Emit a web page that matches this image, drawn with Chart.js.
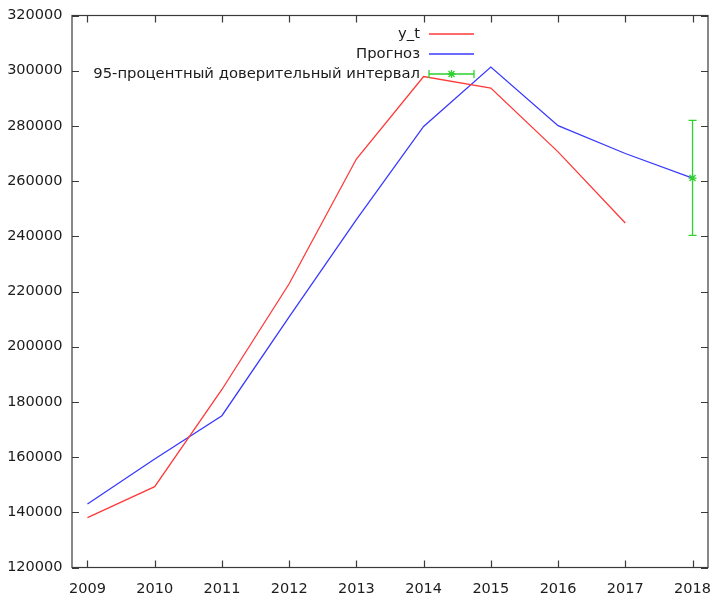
<!DOCTYPE html>
<html>
<head>
<meta charset="utf-8">
<script src="https://cdn.jsdelivr.net/npm/chart.js@4/dist/chart.umd.min.js"></script>
<style>
  html, body { margin: 0; padding: 0; background: #ffffff; }
  canvas { display: block; }
</style>
</head>
<body>
<canvas id="c" width="714" height="595"></canvas>
<script>
// Years on the horizontal axis
const years = [2009, 2010, 2011, 2012, 2013, 2014, 2015, 2016, 2017, 2018];
// Observed series y_t (2009–2017)
const actual = [138100, 149300, 184500, 222800, 268000, 297900, 293700, 270600, 244800];
// Forecast series (2009–2018)
const forecast = [143000, 159300, 175000, 210800, 246000, 279800, 301300, 280100, 270000, 261100];
// 95% confidence interval for the 2018 forecast
const ciYear = [2018];
const ciPoint = [261100];
const ciLow = [240300];
const ciHigh = [282000];
// Axis tick values
const yTicks = [120000, 140000, 160000, 180000, 200000, 220000, 240000, 260000, 280000, 300000, 320000];
// Legend entries
const seriesNames = ['y_t', 'Прогноз', '95-процентный доверительный интервал'];

const RED = '#ff3a3a';
const BLUE = '#3a3aff';
const GREEN = '#2ed12e';
const INK = '#1c1c1c';
const FAMILY = '"DejaVu Sans", sans-serif';
const KEY_FONT = '14.8px "DejaVu Sans", sans-serif';

function drawStar(ctx, x, y, r) {
  ctx.beginPath();
  ctx.moveTo(x - r, y); ctx.lineTo(x + r, y);
  ctx.moveTo(x, y - r); ctx.lineTo(x, y + r);
  const d = r * 0.75;
  ctx.moveTo(x - d, y - d); ctx.lineTo(x + d, y + d);
  ctx.moveTo(x - d, y + d); ctx.lineTo(x + d, y - d);
  ctx.stroke();
}

// Frame, inward tick marks, error bar and key
const gnuplotStyle = {
  id: 'gnuplotStyle',
  afterDatasetsDraw(chart) {
    const { ctx, chartArea: a, scales } = chart;
    const xs = scales.x, ys = scales.y;
    ctx.save();

    // error bar
    ctx.strokeStyle = GREEN;
    ctx.lineWidth = 1.3;
    ciYear.forEach((yr, i) => {
      const px = xs.getPixelForValue(yr);
      const top = ys.getPixelForValue(ciHigh[i]);
      const bot = ys.getPixelForValue(ciLow[i]);
      const mid = ys.getPixelForValue(ciPoint[i]);
      ctx.beginPath();
      ctx.moveTo(px, top); ctx.lineTo(px, bot);
      ctx.moveTo(px - 4, top); ctx.lineTo(px + 4, top);
      ctx.moveTo(px - 4, bot); ctx.lineTo(px + 4, bot);
      ctx.stroke();
      drawStar(ctx, px, mid, 4);
    });

    // frame
    ctx.strokeStyle = '#3a3a3a';
    ctx.lineWidth = 1.2;
    ctx.strokeRect(a.left, a.top, a.right - a.left, a.bottom - a.top);

    // inward ticks on all four sides
    const tl = 7;
    ctx.beginPath();
    years.forEach(v => {
      const px = Math.round(xs.getPixelForValue(v)) + 0.5;
      ctx.moveTo(px, a.bottom); ctx.lineTo(px, a.bottom - tl);
      ctx.moveTo(px, a.top); ctx.lineTo(px, a.top + tl);
    });
    yTicks.forEach(v => {
      const py = Math.round(ys.getPixelForValue(v)) + 0.5;
      ctx.moveTo(a.left, py); ctx.lineTo(a.left + tl, py);
      ctx.moveTo(a.right, py); ctx.lineTo(a.right - tl, py);
    });
    ctx.stroke();

    // key
    const textRight = 420, s0 = 429, s1 = 474;
    const rows = [34, 54, 74];
    const colors = [RED, BLUE, GREEN];
    ctx.font = KEY_FONT;
    ctx.fillStyle = INK;
    ctx.textAlign = 'right';
    ctx.textBaseline = 'middle';
    seriesNames.forEach((name, i) => {
      ctx.fillText(name, textRight, rows[i]);
      ctx.strokeStyle = colors[i];
      ctx.lineWidth = 1.3;
      ctx.beginPath();
      ctx.moveTo(s0, rows[i]); ctx.lineTo(s1, rows[i]);
      if (i === 2) {
        ctx.moveTo(s0, rows[i] - 4); ctx.lineTo(s0, rows[i] + 4);
        ctx.moveTo(s1, rows[i] - 4); ctx.lineTo(s1, rows[i] + 4);
      }
      ctx.stroke();
      if (i === 2) drawStar(ctx, (s0 + s1) / 2, rows[i], 4);
    });
    ctx.restore();
  }
};

new Chart(document.getElementById('c'), {
  type: 'line',
  data: {
    datasets: [
      {
        label: seriesNames[0],
        data: actual.map((v, i) => ({ x: years[i], y: v })),
        borderColor: RED, borderWidth: 1.3, pointRadius: 0, tension: 0, fill: false
      },
      {
        label: seriesNames[1],
        data: forecast.map((v, i) => ({ x: years[i], y: v })),
        borderColor: BLUE, borderWidth: 1.3, pointRadius: 0, tension: 0, fill: false
      },
      {
        label: seriesNames[2],
        data: ciPoint.map((v, i) => ({ x: ciYear[i], y: v })),
        borderColor: GREEN, showLine: false, pointRadius: 0
      }
    ]
  },
  options: {
    responsive: false,
    animation: false,
    devicePixelRatio: 1,
    layout: { padding: { top: 15.5, right: 6, left: 0, bottom: 0 } },
    plugins: { legend: { display: false }, tooltip: { enabled: false } },
    scales: {
      x: {
        type: 'linear',
        min: 2008.77,
        max: 2018.23,
        grid: { display: false, drawTicks: false },
        border: { display: false },
        afterBuildTicks: s => { s.ticks = years.map(v => ({ value: v })); },
        afterFit: s => { s.height = 27.5; s.paddingLeft = 0; s.paddingRight = 0; },
        ticks: {
          color: INK,
          padding: 13,
          maxRotation: 0,
          autoSkip: false,
          font: { family: FAMILY, size: 14.5 },
          callback: v => String(v)
        }
      },
      y: {
        type: 'linear',
        min: 120000,
        max: 320000,
        grid: { display: false, drawTicks: false },
        border: { display: false },
        afterBuildTicks: s => { s.ticks = yTicks.map(v => ({ value: v })); },
        afterFit: s => { s.width = 72; s.paddingTop = 0; s.paddingBottom = 0; },
        ticks: {
          color: INK,
          padding: 9.5,
          autoSkip: false,
          font: { family: FAMILY, size: 14.5 },
          callback: v => String(v)
        }
      }
    }
  },
  plugins: [gnuplotStyle]
});
</script>
</body>
</html>
